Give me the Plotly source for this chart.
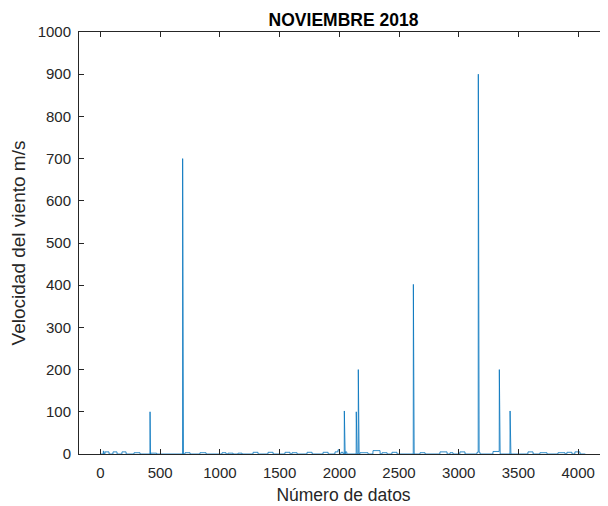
import numpy as np
import plotly.graph_objects as go

# ---- data ----
n_points = 4060
spike_idx = [415, 688, 2042, 2142, 2159, 2620, 3164, 3340, 3430]
spike_val = [100, 700, 102, 100, 200, 402, 900, 200, 102]

bump_start = [24, 38, 105, 180, 281, 420, 708, 833, 1018, 1068, 1152, 1278, 1403, 1545,
              1604, 1730, 1864, 1964, 1989, 2014, 2050, 2173, 2282, 2358, 2441, 2676,
              2843, 2927, 3010, 3153, 3287, 3580, 3680, 3831, 3906, 3973]
bump_end = [28, 71, 138, 214, 331, 470, 750, 884, 1051, 1110, 1185, 1319, 1445, 1587,
            1646, 1772, 1906, 1989, 2000, 2031, 2062, 2240, 2341, 2400, 2483, 2718,
            2902, 2952, 3052, 3178, 3345, 3622, 3739, 3890, 3948, 4015]
bump_val = [7, 5, 5, 5, 3, 2, 3, 3, 3, 2, 2, 4, 4, 4,
            3, 4, 4, 5, 10, 4, 5, 3, 8, 3, 4, 3,
            5, 3, 5, 4, 6, 5, 3, 3, 4, 5]

x_ticks = [0, 500, 1000, 1500, 2000, 2500, 3000, 3500, 4000]
y_ticks = [0, 100, 200, 300, 400, 500, 600, 700, 800, 900, 1000]

# ---- build series ----
y = np.zeros(n_points)
for s, e, v in zip(bump_start, bump_end, bump_val):
    y[s - 1:e] = v
for i, v in zip(spike_idx, spike_val):
    y[i - 1] = v
x = np.arange(1, n_points + 1)

font_family = "Liberation Sans, Arial, Helvetica, sans-serif"
axis_color = "#262626"

# the page body has an 8px margin; the figure is sized/offset to compensate
fig_w, fig_h = 600, 498

fig = go.Figure()
fig.add_trace(go.Scatter(x=x, y=y, mode="lines",
                         line=dict(color="#0072BD", width=0.8),
                         showlegend=False, hoverinfo="skip"))

fig.update_layout(
    width=fig_w, height=fig_h,
    margin=dict(l=71, r=0, t=24, b=52),
    paper_bgcolor="white", plot_bgcolor="white",
    font=dict(family=font_family, color=axis_color),
    title=dict(text="<b>NOVIEMBRE 2018</b>", x=0.5, xref="paper", xanchor="center",
               y=1 - 12 / fig_h, yanchor="middle", yref="container",
               font=dict(size=17.5, color="black", family=font_family)),
)
fig.update_xaxes(
    range=[-180, 4250], tickvals=x_ticks, ticktext=[str(v) for v in x_ticks],
    ticks="inside", ticklen=5, tickwidth=1, tickcolor=axis_color,
    showline=True, linecolor=axis_color, linewidth=1, mirror="ticks",
    showgrid=False, zeroline=False, automargin=False, ticklabelstandoff=5,
    tickfont=dict(size=15, color=axis_color, family=font_family),
    title=dict(text="Número de datos", standoff=8,
               font=dict(size=17.5, color=axis_color, family=font_family)),
)
fig.update_yaxes(
    range=[0, 1000], tickvals=y_ticks, ticktext=[str(v) for v in y_ticks],
    ticks="inside", ticklen=5, tickwidth=1, tickcolor=axis_color,
    showline=True, linecolor=axis_color, linewidth=1,
    showgrid=False, zeroline=False, automargin=False, ticklabelstandoff=4,
    tickfont=dict(size=15, color=axis_color, family=font_family),
    title=dict(text="Velocidad del viento m/s", standoff=7,
               font=dict(size=19, color=axis_color, family=font_family)),
)

fig.write_html("out.html")
